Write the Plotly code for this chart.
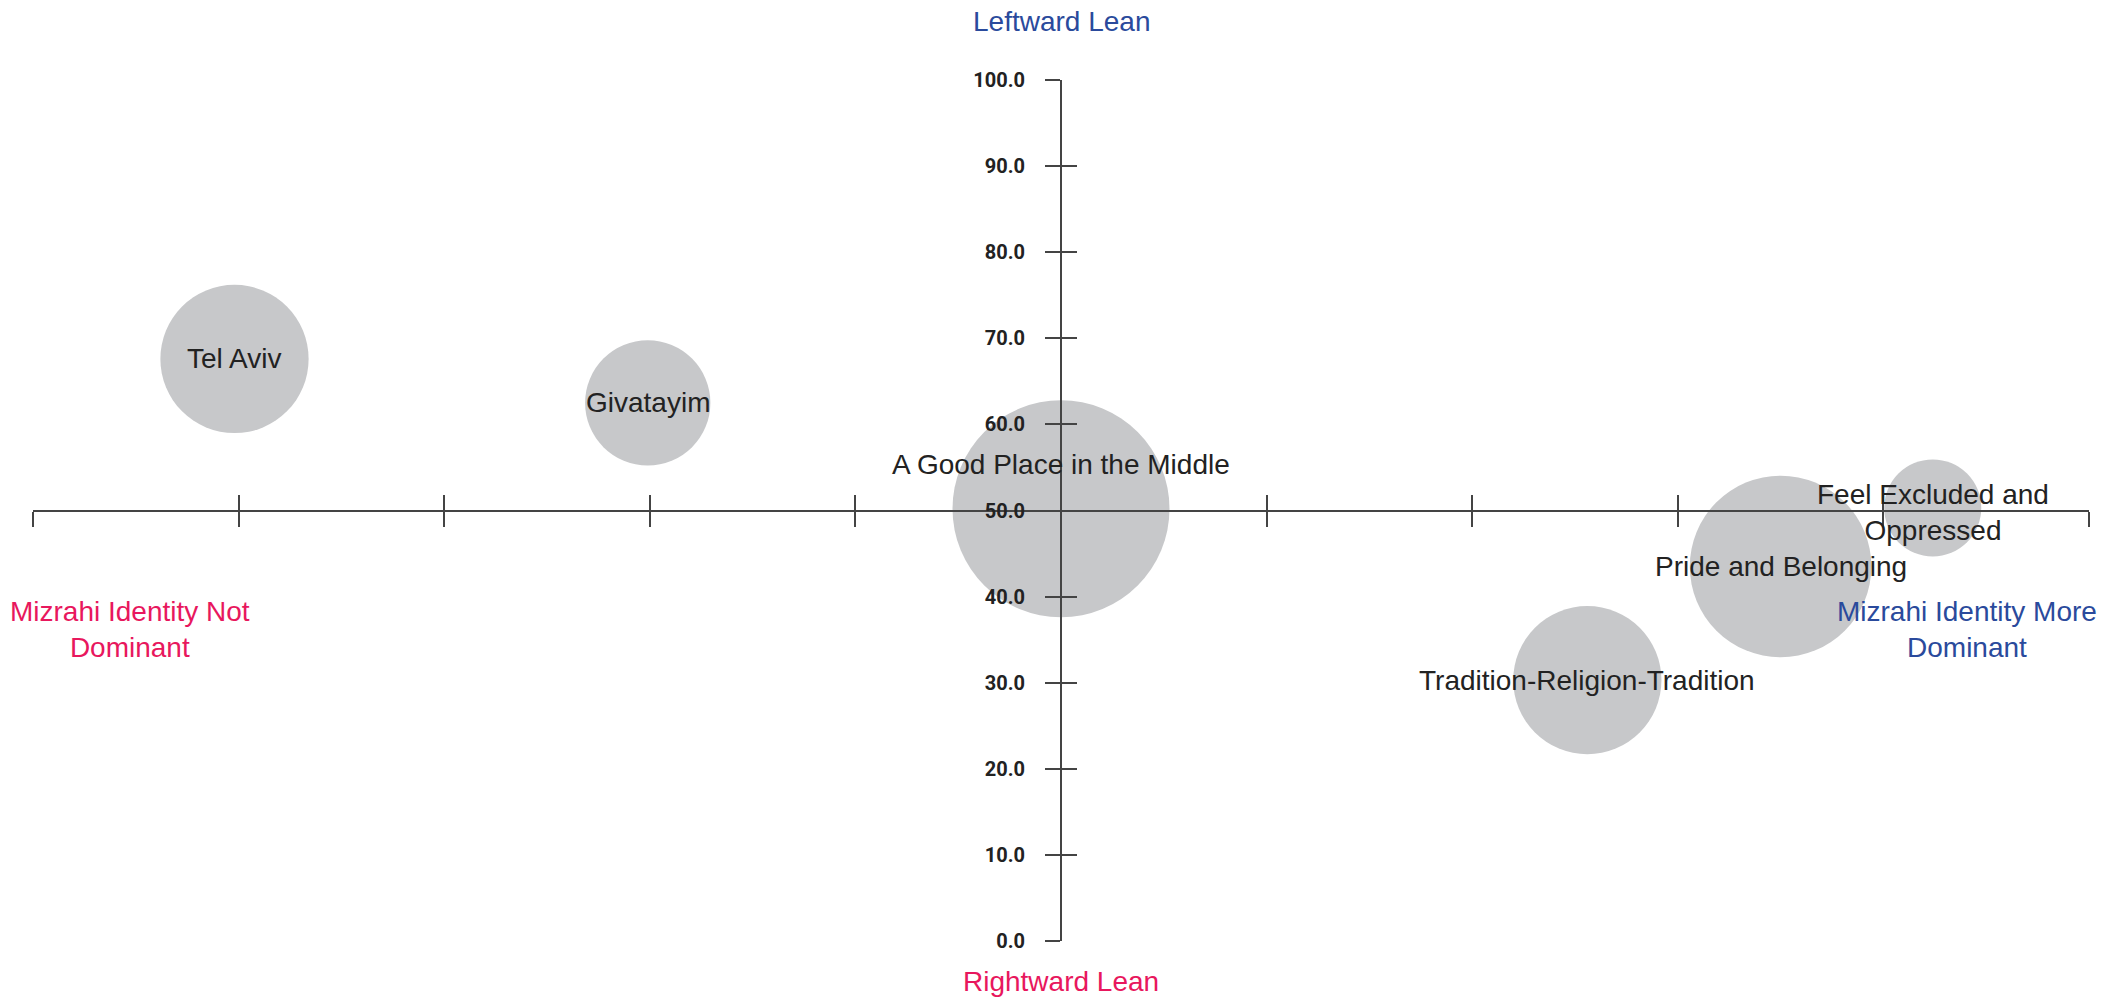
import plotly.graph_objects as go

# ---- data ----
labels = ["Tel Aviv", "Givatayim", "A Good Place in the Middle",
          "Tradition-Religion-Tradition", "Pride and Belonging",
          "Feel Excluded and<br>Oppressed"]
x_identity = [9.8, 29.9, 50.0, 75.6, 85.0, 92.4]
y_lean = [67.6, 62.5, 50.2, 30.3, 43.5, 50.3]
sizes = [14, 10, 30, 14, 21, 6]
y_ticks = [0, 10, 20, 30, 40, 50, 60, 70, 80, 90, 100]
x_ticks = [0, 10, 20, 30, 40, 50, 60, 70, 80, 90, 100]

BLUE = "#2a4a9c"
PINK = "#e8175d"
AXIS = "#444444"
TXT = "#222222"
BUBBLE = "#c7c8ca"

max_d = 217
sizeref = 2.0 * max(sizes) / (max_d ** 2)

fig = go.Figure()
fig.add_trace(go.Scatter(
    x=x_identity, y=y_lean, mode="markers",
    marker=dict(size=sizes, sizemode="area", sizeref=sizeref,
                color=BUBBLE, opacity=1, line=dict(width=0)),
    hoverinfo="skip", showlegend=False,
))
# invisible twin trace so the overlaid axes (used for the crossing ticks) render
fig.add_trace(go.Scatter(
    x=x_identity, y=y_lean, mode="markers", xaxis="x2", yaxis="y2",
    marker=dict(size=1, opacity=0), hoverinfo="skip", showlegend=False,
))

label_font = dict(family="Liberation Sans, Arial, sans-serif", size=28, color=TXT)
label_shift = {"A Good Place in the Middle": 44,
               "Feel Excluded and<br>Oppressed": -5}
annotations = []
for lab, xv, yv in zip(labels, x_identity, y_lean):
    annotations.append(dict(
        x=xv, y=yv, xref="x", yref="y", text=lab, showarrow=False,
        font=label_font, xanchor="center", yanchor="middle",
        yshift=label_shift.get(lab, 0),
    ))

edge_font = dict(family="Liberation Sans, Arial, sans-serif", size=28)
annotations += [
    dict(x=50, y=1.068, xref="x", yref="paper", text="Leftward Lean",
         showarrow=False, font=dict(edge_font, color=BLUE),
         xanchor="center", yanchor="middle"),
    dict(x=50, y=-0.047, xref="x", yref="paper", text="Rightward Lean",
         showarrow=False, font=dict(edge_font, color=PINK),
         xanchor="center", yanchor="middle"),
    dict(x=4.72, y=36.2, xref="x", yref="y", text="Mizrahi Identity Not<br>Dominant",
         showarrow=False, font=dict(edge_font, color=PINK),
         xanchor="center", yanchor="middle"),
    dict(x=94.07, y=36.2, xref="x", yref="y", text="Mizrahi Identity More<br>Dominant",
         showarrow=False, font=dict(edge_font, color=BLUE),
         xanchor="center", yanchor="middle"),
]

common_axis = dict(showgrid=False, zeroline=False, showline=True,
                   linecolor=AXIS, linewidth=2, tickcolor=AXIS,
                   tickwidth=2, ticklen=15, fixedrange=True)

fig.update_layout(
    width=2121, height=999,
    margin=dict(l=33, r=32, t=80, b=58, pad=0),
    paper_bgcolor="white", plot_bgcolor="white",
    hovermode=False, showlegend=False,
    xaxis=dict(common_axis, range=[0, 100], anchor="free", position=0.5,
               tickvals=x_ticks, ticks="outside", showticklabels=False),
    xaxis2=dict(common_axis, range=[0, 100], overlaying="x", anchor="free",
                position=0.5, side="bottom",
                tickvals=x_ticks, ticks="inside", showticklabels=False),
    yaxis=dict(common_axis, range=[0, 100], anchor="free", position=0.5,
               tickvals=y_ticks, ticks="outside", tickformat=".1f",
               ticklabelstandoff=16,
               tickfont=dict(family="Roboto, sans-serif", size=20,
                             color=TXT, weight="bold")),
    yaxis2=dict(common_axis, range=[0, 100], overlaying="y", anchor="free",
                position=0.5, side="left",
                tickvals=y_ticks, ticks="inside", showticklabels=False),
    annotations=annotations,
)

fig.write_html("out.html", config={"displayModeBar": False},
               post_script="document.body.style.margin='0';document.body.style.overflow='hidden';")
